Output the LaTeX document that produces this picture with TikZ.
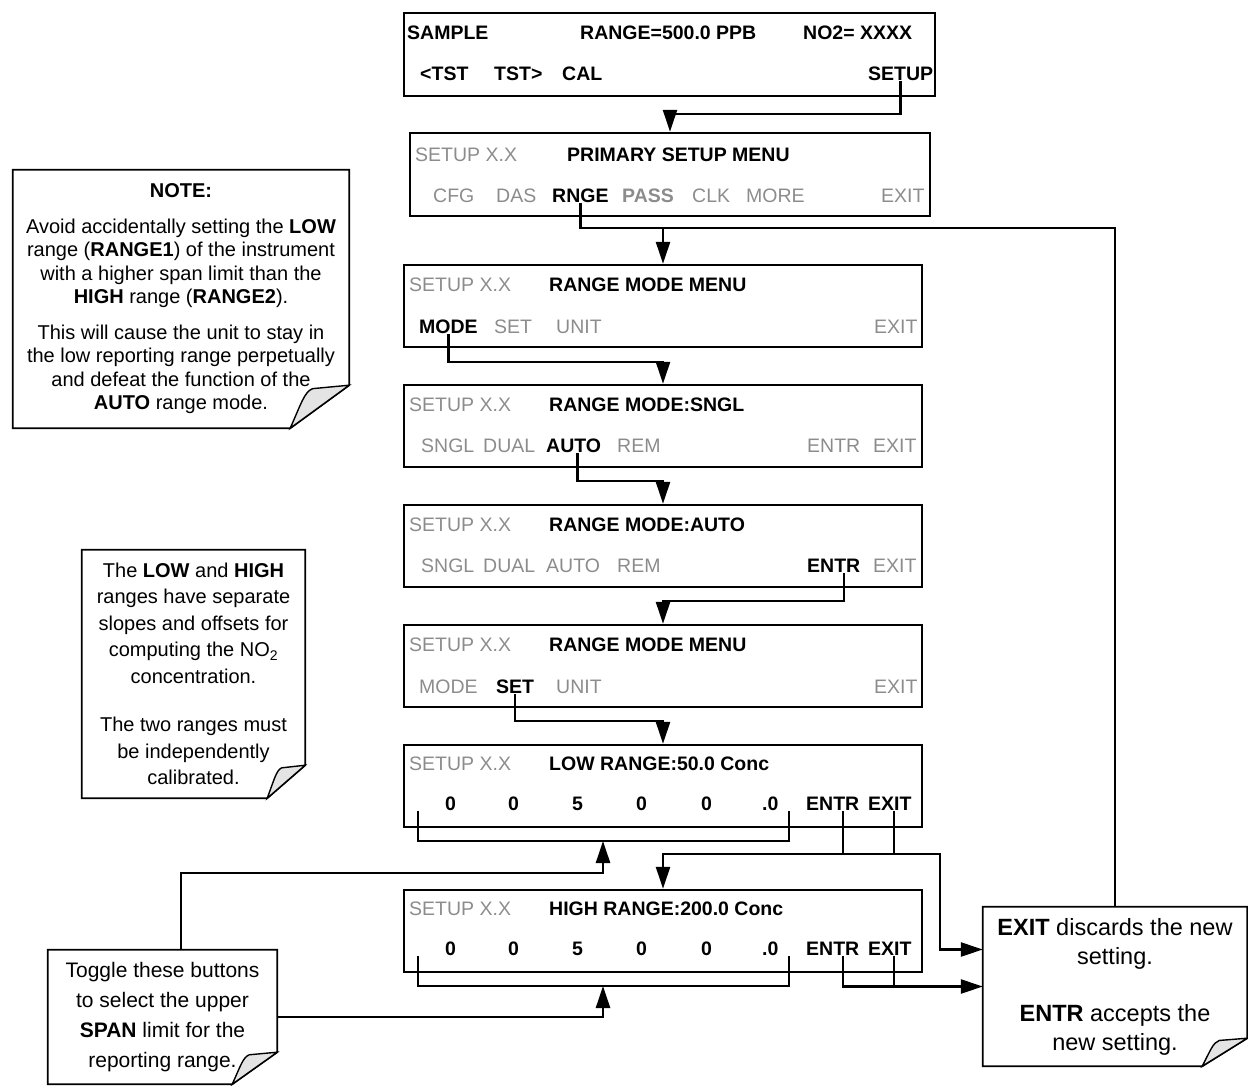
\documentclass[tikz,border=0pt]{standalone}
\usepackage{fontspec}
\setmainfont{Liberation Sans}
\usetikzlibrary{arrows.meta,calc}
\definecolor{lcdgray}{HTML}{8C8C8C}
\definecolor{foldgray}{HTML}{E4E4E4}
\def\dogear(#1)(#2:#3){%
	\draw[notebox] (#1.north west) -- (#1.north east) -- ($(#1.south east)+(0,-#3)$) -- ($(#1.south east)+(-#2,0)$) -- (#1.south west) -- cycle;
	\filldraw[fold] ($(#1.south east)+(-#2,0)$) .. controls ($(#1.south east)+(-0.82*#2,-0.55*#3)$) and ($(#1.south east)+(-0.76*#2,-0.85*#3)$) .. ($(#1.south east)+(-0.62*#2,-0.92*#3)$) -- ($(#1.south east)+(0,-#3)$) -- cycle;}
\tikzset{
	disp/.style={draw, line width=2.5pt, inner sep=0pt},
	lcd/.style={anchor=west, inner sep=0pt, font=\fontsize{19.5}{21}\selectfont, text=lcdgray},
	btn/.style={lcd, font=\fontsize{19.5}{21}\selectfont\bfseries, text=black},
	btng/.style={btn, text=lcdgray},
	notetext/.style={inner sep=0pt, align=center},
	notebox/.style={line width=1.8pt},
	fold/.style={line width=1.4pt, fill=foldgray},
	wire/.style={line width=2.5pt},
	arr/.style={wire, -{Triangle[length=22pt,width=14pt]}},
}

\begin{document}
\begin{tikzpicture}[x=1pt, y=-1pt]
		%%%%% START %%%%%
		\useasboundingbox (0,0) rectangle (1248,1085);
		
		% displays
		\node[disp, minimum width=531, minimum height=83] (sample) at (669.5,54.5) {};
		\node[btn] (smp) at (407,33) {SAMPLE};
		\node[btn] (rngA) at (580,33) {RANGE=500.0 PPB};
		\node[btn] (noA) at (803,33) {NO2= XXXX};
		\node[btn] (tstl) at (420,74) {<TST};
		\node[btn] (tstr) at (494,74) {TST>};
		\node[btn] (cal) at (562,74) {CAL};
		\node[btn] (setup) at (868,74) {SETUP};
		
		\node[disp, minimum width=520, minimum height=83] (prim) at (670,174.5) {};
		\node[lcd] (hdrB) at (415,155) {SETUP X.X};
		\node[btn] (ttlB) at (567,155) {PRIMARY SETUP MENU};
		\node[lcd] (cfg) at (433,196) {CFG};
		\node[lcd] (das) at (496,196) {DAS};
		\node[btn] (rnge) at (552,196) {RNGE};
		\node[btng] (pass) at (622,196) {PASS};
		\node[lcd] (clk) at (692,196) {CLK};
		\node[lcd] (more) at (746,196) {MORE};
		\node[lcd] (exitB) at (881,196) {EXIT};
		
		\node[disp, minimum width=518, minimum height=82] (rmenu) at (663,306) {};
		\node[lcd] (hdrC) at (409,285) {SETUP X.X};
		\node[btn] (ttlC) at (549,285) {RANGE MODE MENU};
		\node[btn] (modeC) at (419,327) {MODE};
		\node[lcd] (setC) at (494,327) {SET};
		\node[lcd] (unitC) at (556,327) {UNIT};
		\node[lcd] (exitC) at (874,327) {EXIT};
		
		\node[disp, minimum width=518, minimum height=82] (sngl) at (663,426) {};
		\node[lcd] (hdrD) at (409,405) {SETUP X.X};
		\node[btn] (ttlD) at (549,405) {RANGE MODE:SNGL};
		\node[lcd] (snglD) at (421,446) {SNGL};
		\node[lcd] (dualD) at (483,446) {DUAL};
		\node[btn] (autoD) at (546,446) {AUTO};
		\node[lcd] (remD) at (617,446) {REM};
		\node[lcd] (entrD) at (807,446) {ENTR};
		\node[lcd] (exitD) at (873,446) {EXIT};
		
		\node[disp, minimum width=518, minimum height=82] (auto) at (663,546) {};
		\node[lcd] (hdrE) at (409,525) {SETUP X.X};
		\node[btn] (ttlE) at (549,525) {RANGE MODE:AUTO};
		\node[lcd] (snglE) at (421,566) {SNGL};
		\node[lcd] (dualE) at (483,566) {DUAL};
		\node[lcd] (autoE) at (546,566) {AUTO};
		\node[lcd] (remE) at (617,566) {REM};
		\node[btn] (entrE) at (807,566) {ENTR};
		\node[lcd] (exitE) at (873,566) {EXIT};
		
		\node[disp, minimum width=518, minimum height=82] (rmenu2) at (663,666) {};
		\node[lcd] (hdrF) at (409,645) {SETUP X.X};
		\node[btn] (ttlF) at (549,645) {RANGE MODE MENU};
		\node[lcd] (modeF) at (419,687) {MODE};
		\node[btn] (setF) at (496,687) {SET};
		\node[lcd] (unitF) at (556,687) {UNIT};
		\node[lcd] (exitF) at (874,687) {EXIT};
		
		\node[disp, minimum width=518, minimum height=82] (low) at (663,786) {};
		\node[lcd] (hdrG) at (409,764) {SETUP X.X};
		\node[btn] (ttlG) at (549,764) {LOW RANGE:50.0 Conc};
		\node[btn] (dG1) at (445,804) {0};
		\node[btn] (dG2) at (508,804) {0};
		\node[btn] (dG3) at (572,804) {5};
		\node[btn] (dG4) at (636,804) {0};
		\node[btn] (dG5) at (701,804) {0};
		\node[btn] (dG6) at (762,804) {.0};
		\node[btn] (entrG) at (806,804) {ENTR};
		\node[btn] (exitG) at (868,804) {EXIT};
		
		\node[disp, minimum width=518, minimum height=82] (high) at (663,931) {};
		\node[lcd] (hdrH) at (409,909) {SETUP X.X};
		\node[btn] (ttlH) at (549,909) {HIGH RANGE:200.0 Conc};
		\node[btn] (dH1) at (445,949) {0};
		\node[btn] (dH2) at (508,949) {0};
		\node[btn] (dH3) at (572,949) {5};
		\node[btn] (dH4) at (636,949) {0};
		\node[btn] (dH5) at (701,949) {0};
		\node[btn] (dH6) at (762,949) {.0};
		\node[btn] (entrH) at (806,949) {ENTR};
		\node[btn] (exitH) at (868,949) {EXIT};
		
		% notes
		\node[notetext, minimum width=336, minimum height=258, font=\fontsize{20}{23.5}\selectfont] (note1) at (181,299) {\textbf{NOTE:}\\[12pt]
			Avoid accidentally setting the \textbf{LOW}\\
			range (\textbf{RANGE1}) of the instrument\\
			with a higher span limit than the\\
			\textbf{HIGH} range (\textbf{RANGE2}).\\[12pt]
			This will cause the unit to stay in\\
			the low reporting range perpetually\\
			and defeat the function of the\\
			\textbf{AUTO} range mode.};
		\dogear(note1)(59:43)
		
		\node[notetext, minimum width=223, minimum height=248, font=\fontsize{20}{26.5}\selectfont] (note2) at (193.5,674) {The \textbf{LOW} and \textbf{HIGH}\\
			ranges have separate\\
			slopes and offsets for\\
			computing the NO\textsubscript{2}\\
			concentration.\\[22pt]
			The two ranges must\\
			be independently\\
			calibrated.};
		\dogear(note2)(38:33)
		
		\node[notetext, minimum width=229, minimum height=134, font=\fontsize{21}{30}\selectfont] (toggle) at (162.5,1017) {Toggle these buttons\\
			to select the upper\\
			\textbf{SPAN} limit for the\\
			reporting range.};
		\dogear(toggle)(45:32)
		
		\node[notetext, minimum width=264, minimum height=159, font=\fontsize{23.5}{29}\selectfont] (note3) at (1115,986.5) {\textbf{EXIT} discards the new\\
			setting.\\[28pt]
			\textbf{ENTR} accepts the\\
			new setting.};
		\dogear(note3)(45:28)
		
		% connectors
		\coordinate (j1) at (670,114);
		\draw[arr] (setup.south) |- (j1) -- (prim.north);
		
		\coordinate (j2) at (663,228);
		\draw[arr] (rnge.south) |- (j2) -- (rmenu.north);
		\draw[wire] (j2) -| (note3.north);
		
		\coordinate (j3) at (663,362);
		\draw[arr] (modeC.south) |- (j3) -- (sngl.north);
		
		\coordinate (j4) at (663,481);
		\coordinate (aD) at ($(autoD.south)+(4,0)$);
		\draw[arr] (aD) |- (j4) -- (auto.north);
		
		\coordinate (j5) at (663,601);
		\coordinate (eE) at ($(entrE.south)+(10,0)$);
		\draw[arr] (eE) |- (j5) -- (rmenu2.north);
		
		\coordinate (j6) at (663,721);
		\draw[arr] (setF.south) |- (j6) -- (low.north);
		
		% span brackets
		\coordinate (loL) at (418,811);
		\coordinate (loR) at (789,811);
		\coordinate (loB) at (603,841);
		\draw[wire] (loL) |- (loB) -| (loR);
		\coordinate (hiL) at (418,956);
		\coordinate (hiR) at (789,956);
		\coordinate (hiB) at (603,986);
		\draw[wire] (hiL) |- (hiB) -| (hiR);
		
		\coordinate (tgUp) at (181,873);
		\draw[arr] (toggle.north -| tgUp) -- (tgUp) -| (loB);
		\draw[arr] (toggle.east) -| (hiB);
		
		% enter / exit
		\coordinate (j7) at (663,854);
		\coordinate (j8) at (940,854);
		\coordinate (eG) at ($(entrG.south)+(10,0)$);
		\coordinate (xG) at ($(exitG.south)+(4,0)$);
		\draw[arr] (eG) |- (j7) -- (high.north);
		\draw[arr] (eG) |- (j8) |- ($(note3.west)+(0,-37)$);
		\draw[wire] (xG) -- (xG |- j8);
		
		\coordinate (eH) at ($(entrH.south)+(10,0)$);
		\coordinate (xH) at ($(exitH.south)+(4,0)$);
		\draw[arr] (eH) |- (note3.west);
		\draw[wire] (xH) -- (xH |- note3.west);
		%%%%% END %%%%%
\end{tikzpicture}
\end{document}
